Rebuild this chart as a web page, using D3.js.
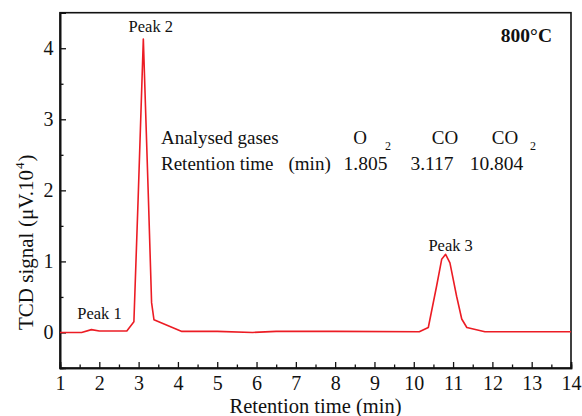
<!DOCTYPE html>
<html><head><meta charset="utf-8">
<script src="https://cdn.jsdelivr.net/npm/d3@7"></script>
</head><body style="margin:0;background:#fff"><svg id="c" width="582" height="416" font-family="Liberation Serif"></svg>
<script>
const timeMin = [1.0,1.55,1.8,2.0,2.7,2.88,2.99,3.12,3.25,3.33,3.39,4.1,5.0,5.9,6.5,8.0,10.14,10.37,10.58,10.71,10.81,10.92,11.09,11.22,11.35,11.81,14.0];
const signal  = [0.0,0.0,0.04,0.02,0.02,0.15,1.92,4.13,1.87,0.42,0.18,0.015,0.015,0.0,0.015,0.015,0.01,0.07,0.65,1.03,1.10,0.98,0.51,0.19,0.07,0.01,0.01];
const xTicks = [1,2,3,4,5,6,7,8,9,10,11,12,13,14];
const yTicks = [0,1,2,3,4];
const peakNames = ["Peak 1","Peak 2","Peak 3"];
const peakTimes = [1.8,3.12,10.81];
const peakHeights = [0.04,4.13,1.10];
const gases = ["O","CO","CO"];
const gasSub = ["2","","2"];
const retTimes = ["1.805","3.117","10.804"];

const FF = "Liberation Serif";
const svg = d3.select("#c");
const m = {l:60,r:571,t:12.7,b:368};
const x = d3.scaleLinear().domain([1,14]).range([m.l,m.r]);
const y = d3.scaleLinear().domain([-0.5,4.5]).range([m.b,m.t]);

svg.append("rect").attr("x",m.l).attr("y",m.t).attr("width",m.r-m.l).attr("height",m.b-m.t)
  .attr("fill","none").attr("stroke","#111").attr("stroke-width",1.6);

const xMinor = d3.range(1.5,14,1);
const yMinor = [0.5,1.5,2.5,3.5];
const gx = svg.append("g").attr("transform",`translate(0,${m.b})`);
gx.call(d3.axisBottom(x).tickValues(xTicks).tickSize(-6).tickPadding(8).tickFormat(d3.format("d")));
gx.append("g").call(d3.axisBottom(x).tickValues(xMinor).tickSize(-3.5).tickFormat(""));
const gy = svg.append("g").attr("transform",`translate(${m.l},0)`);
gy.call(d3.axisLeft(y).tickValues(yTicks).tickSize(-6).tickPadding(6.5).tickFormat(d3.format("d")));
gy.append("g").call(d3.axisLeft(y).tickValues(yMinor).tickSize(-3.5).tickFormat(""));
svg.selectAll("g").attr("font-family",FF);
svg.selectAll(".domain").attr("stroke","#111").attr("stroke-width",1.6);
svg.selectAll(".tick line").attr("stroke","#111").attr("stroke-width",1.3);
svg.selectAll(".tick text").attr("font-size",20).attr("font-family",FF).attr("fill","#111");

svg.append("path").datum(timeMin.map((t,i)=>[t,signal[i]]))
  .attr("fill","none").attr("stroke","#ec1c24").attr("stroke-width",1.6).attr("stroke-linejoin","round")
  .attr("d",d3.line().x(d=>x(d[0])).y(d=>y(d[1])));

function txt(xp,yp,s,size,anchor){
  return svg.append("text").attr("x",xp).attr("y",yp).attr("font-family",FF).attr("fill","#111")
    .attr("font-size",size).attr("text-anchor",anchor||"start").text(s);
}
const lblDx = [8,7.5,5], lblDy = [-10.5,-7,-3];
peakNames.forEach((n,i)=>{
  txt(x(peakTimes[i])+lblDx[i], y(peakHeights[i])+lblDy[i], n, 16.5, "middle");
});
txt(552,42,"800°C",19.5,"end").attr("font-weight","bold");

const rowY1 = 143.5, rowY2 = 169.5;
txt(161,rowY1,"Analysed gases",19);
const r2 = txt(161,rowY2,"Retention time",19);
r2.append("tspan").attr("x",288.5).text("(min)");
const gasX = [360,445,505];
gases.forEach((g,i)=>txt(gasX[i],rowY1,g,19,"middle"));
const subX = [388,0,533];
gasSub.forEach((s,i)=>{ if(s) txt(subX[i],150,s,12,"middle"); });
const numX = [365.5,432,496.5];
retTimes.forEach((r,i)=>txt(numX[i],rowY2,r,19.5,"middle"));

txt(m.l+(m.r-m.l)/2,413,"Retention time (min)",20.5,"middle");
const yl = svg.append("text").attr("transform","translate(32.5,330) rotate(-90)")
  .attr("font-size",21).attr("font-family",FF).attr("fill","#111");
yl.append("tspan").attr("x",0).text("TCD signal");
yl.append("tspan").attr("x",103).text("(μV.10");
yl.append("tspan").attr("dx",1).attr("dy",-9).attr("font-size",13).text("4");
yl.append("tspan").attr("dx",1).attr("dy",9).text(")");
</script></body></html>
